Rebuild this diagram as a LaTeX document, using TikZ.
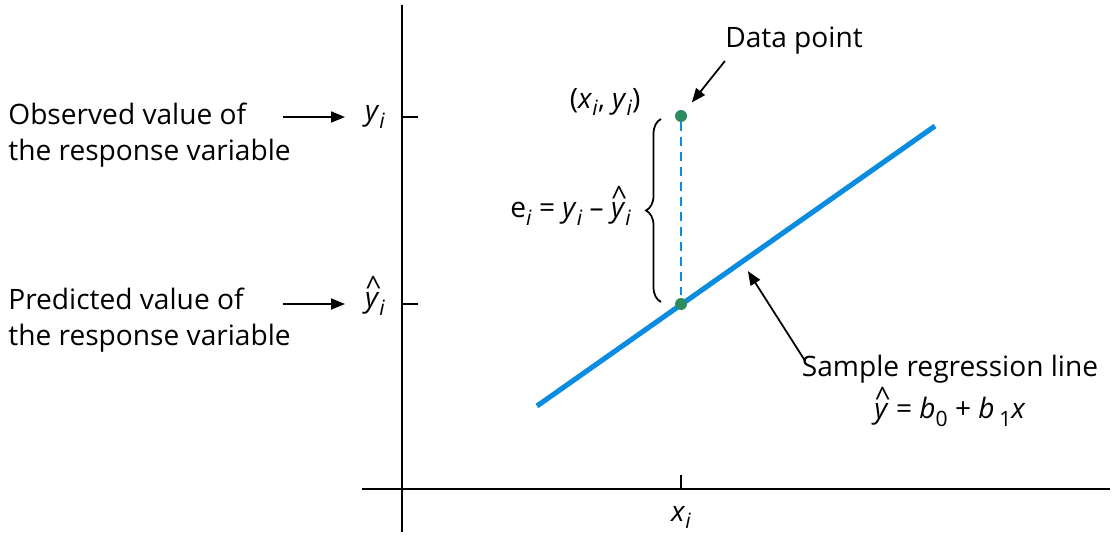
\documentclass[tikz,border=0pt]{standalone}
\usepackage{fontspec}
\usepackage{graphicx}
\setmainfont{Open Sans}
\usetikzlibrary{arrows.meta,positioning,decorations.pathreplacing}
\definecolor{RegBlue}{RGB}{10,140,225}
\definecolor{PtGreen}{RGB}{46,139,96}
\newcommand{\sub}[1]{\raisebox{-0.5ex}{\scalebox{0.75}{#1}}}
\newcommand{\itsub}[2]{\textit{#1}\sub{\textit{#2}}}
\newcommand{\hatit}[1]{\ooalign{\textit{#1}\cr\hidewidth\kern0.08em\raisebox{0.4em}{\textasciicircum}\hidewidth\cr}}
\tikzset{
  reg/axis/.style={line width=1.1pt, draw=black},
  reg/tick/.style={line width=0.9pt, draw=black},
  reg/line/.style={line width=2.9pt, draw=RegBlue},
  reg/resid/.style={line width=1pt, draw=RegBlue, dash pattern=on 5pt off 3.5pt},
  reg/point/.style={circle, fill=PtGreen, inner sep=0pt, minimum size=0.24cm},
  reg/label/.style={align=left, font=\fontsize{16}{20.5}\selectfont, inner sep=0pt},
  reg/math/.style={font=\fontsize{16}{20.5}\selectfont, inner sep=1pt},
  reg/arrow/.style={-{Triangle[length=2.8mm,width=2.2mm]}, line width=1pt},
  reg/brace/.style={decorate, decoration={brace,amplitude=0.3cm}, line width=1pt}
}

\begin{document}
\begin{tikzpicture}[x=1cm,y=1cm]
  \useasboundingbox (0,0) rectangle (22.34,10.7);
  % axes and ticks
  \draw[reg/axis] (8.04,0.06) -- (8.04,10.6);
  \draw[reg/axis] (7.24,0.92) -- (22.2,0.92);
  \draw[reg/tick] (8.04,8.36) -- ++(0.32,0);
  \draw[reg/tick] (8.04,4.62) -- ++(0.32,0);
  \draw[reg/tick] (13.62,0.92) -- ++(0,0.28);

  % regression line and points
  \coordinate (regA) at (10.74,2.58);
  \coordinate (regB) at (18.7,8.18);
  \draw[reg/line] (regA) -- (regB);
  \path (regA) -- (regB) coordinate[pos=0.515] (regmid);
  \node[reg/point] (pred) at (13.62,4.62) {};
  \node[reg/point] (dp) at (13.62,8.38) {};
  \draw[reg/resid] (dp) -- (pred);
  \draw[reg/brace] (13.22,4.66) -- (13.22,8.32);

  % labels
  \node[reg/math, anchor=east] (resid) at (12.66,6.42) {e\sub{\textit{i}} = \itsub{y}{i} \textendash{} \hatit{y}\sub{\textit{i}}};
  \node[reg/math, anchor=east] (pt) at (12.85,8.66) {(\itsub{x}{i}, \itsub{y}{i})};
  \node[reg/label] (dplab) at (15.88,9.88) {Data point};
  \draw[reg/arrow, shorten >=0.22cm] ([yshift=-0.12cm]dplab.south west) -- (dp);
  \node[reg/label, align=center] (reglab) at (19.0,2.88) {Sample regression line\\[0.12cm]\hatit{y} = \textit{b}\sub{0} + \textit{b}\,\sub{1}\textit{x}};
  \draw[reg/arrow, shorten >=0.22cm] ([xshift=0.06cm,yshift=-0.1cm]reglab.north west) -- (regmid);

  \node[reg/label, anchor=west] (obs) at (0.16,8.0) {Observed value of\\the response variable};
  \node[reg/math, anchor=west] (yi) at (7.26,8.36) {\itsub{y}{i}};
  \draw[reg/arrow, shorten <=-0.16cm, shorten >=0.36cm] (yi.west -| obs.east) -- (yi.west);
  \node[reg/label, anchor=west] (predlab) at (0.16,4.3) {Predicted value of\\the response variable};
  \node[reg/math, anchor=west] (yhi) at (7.26,4.62) {\hatit{y}\sub{\textit{i}}};
  \draw[reg/arrow, shorten <=-0.16cm, shorten >=0.36cm] (yhi.west -| predlab.east) -- (yhi.west);
  \node[reg/math, anchor=north] (xi) at (13.62,0.62) {\itsub{x}{i}};
\end{tikzpicture}
\end{document}
